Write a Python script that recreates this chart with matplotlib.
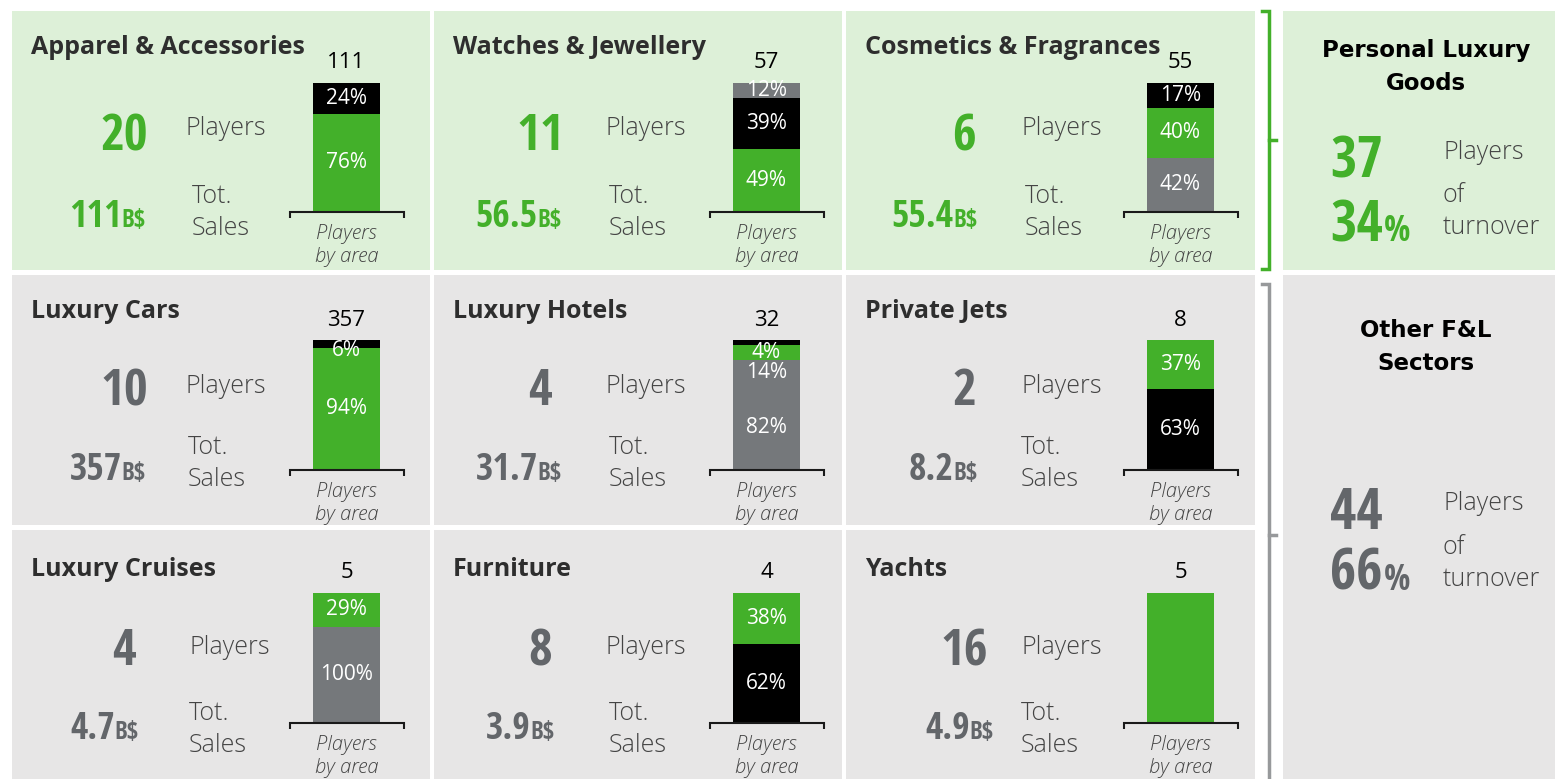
import os
import matplotlib
matplotlib.use("Agg")
import matplotlib.pyplot as plt
from matplotlib import font_manager as fm
from matplotlib.font_manager import FontProperties
from matplotlib.patches import Rectangle

# ---------------- data ----------------
sectors = ["Apparel & Accessories", "Watches & Jewellery", "Cosmetics & Fragrances",
           "Luxury Cars", "Luxury Hotels", "Private Jets",
           "Luxury Cruises", "Furniture", "Yachts"]
sector_group = [0, 0, 0, 1, 1, 1, 1, 1, 1]
players = [20, 11, 6, 10, 4, 2, 4, 8, 16]
sales_bn = [111, 56.5, 55.4, 357, 31.7, 8.2, 4.7, 3.9, 4.9]
bar_totals = [111, 57, 55, 357, 32, 8, 5, 4, 5]
seg_areas = [["green", "black"], ["green", "black", "gray"], ["gray", "green", "black"],
             ["green", "black"], ["gray", "gray", "green", "black"], ["black", "green"],
             ["gray", "green"], ["black", "green"], ["green"]]
seg_shares = [[76, 24], [49, 39, 12], [42, 39, 19],
              [94, 6], [65, 20, 11, 4], [62, 38],
              [74, 26], [61, 39], [100]]
seg_labels = [["76%", "24%"], ["49%", "39%", "12%"], ["42%", "40%", "17%"],
              ["94%", "6%"], ["82%", "14%", "4%", ""], ["63%", "37%"],
              ["100%", "29%"], ["62%", "38%"], [""]]

groups = ["Personal Luxury\nGoods", "Other F&L\nSectors"]
group_players = [37, 44]
group_turnover_pct = [34, 66]

# ---------------- style ----------------
GREEN = "#43B02A"
GRAY_BAR = "#75787B"
GRAY_TXT = "#63666A"
BG_GREEN = "#DDF0D8"
BG_GRAY = "#E7E6E6"
AREA_COLORS = {"green": GREEN, "black": "#000000", "gray": GRAY_BAR}
DARK = "#2E2E2E"
MID = "#444444"

W, H = 1555, 779


def find_condensed_bold():
    prefs = ["opensans", "notosans", "roboto", "liberationsans", "lato", "inter", "dejavusans"]
    best = None
    for f in fm.fontManager.ttflist:
        base = os.path.basename(f.fname).lower().replace("-", "").replace("_", "").replace(" ", "")
        if "italic" in base or "oblique" in base:
            continue
        st = str(f.stretch).lower()
        cond_rank = None
        if "semicondensed" in base or st == "semi-condensed":
            cond_rank = 1
        elif "extracondensed" in base or "ultracondensed" in base or st in ("extra-condensed", "ultra-condensed"):
            cond_rank = 2
        elif "condensed" in base or "narrow" in base or st == "condensed":
            cond_rank = 0
        if cond_rank is None:
            continue
        w = f.weight
        is_bold = (w in (700, "bold")) or ("bold" in base and "semibold" not in base
                                          and "extrabold" not in base and "demibold" not in base)
        if not is_bold:
            continue
        fam_rank = len(prefs)
        for i, p in enumerate(prefs):
            if base.startswith(p):
                fam_rank = i
                break
        score = (fam_rank, cond_rank)
        if best is None or score < best[0]:
            best = (score, f.fname)
    if best:
        return best[1]
    return fm.findfont(FontProperties(family="Open Sans", weight="bold"))


COND_PATH = find_condensed_bold()


def cond(size):
    return FontProperties(fname=COND_PATH, size=size)


def osans(size, weight="normal", style="normal"):
    return FontProperties(family=["Open Sans", "DejaVu Sans"], size=size, weight=weight, style=style)


fig = plt.figure(figsize=(W / 100, H / 100), dpi=100)
fig.patch.set_facecolor("white")
ax = fig.add_axes([0, 0, 1, 1])
ax.set_xlim(0, W)
ax.set_ylim(H, 0)
ax.axis("off")
renderer = fig.canvas.get_renderer()

# ---------------- layout ----------------
COL_X = [(12, 430), (434, 842), (846, 1255)]
ROW_Y = [(11, 270), (275, 525), (530, 779)]
NUM_CX = [124, 540, 964]
SALES_RX = [[146, 562, 978], [146, 562, 978], [139, 555, 994]]
PLAYERS_LX = [[186, 605, 1022], [186, 605, 1022], [190, 605, 1022]]
TOT_LX = [[192, 609, 1025], [188, 609, 1021], [189, 609, 1021]]
BAR_CX = [346.5, 766.5, 1180.5]
BAR_W = 67
BRACKET_HALF = 58
ROW_INFO = [
    dict(title=47, num=150, sales=227, players=128, tot=196, sal=228, top=83, bot=212),
    dict(title=311, num=405, sales=480, players=386, tot=447, sal=479, top=340, bot=470),
    dict(title=570, num=665, sales=739, players=647, tot=714, sal=746, top=593, bot=723),
]

for i, name in enumerate(sectors):
    r, c = divmod(i, 3)
    x0, x1 = COL_X[c]
    y0, y1 = ROW_Y[r]
    info = ROW_INFO[r]
    g = sector_group[i]
    bg = BG_GREEN if g == 0 else BG_GRAY
    numc = GREEN if g == 0 else GRAY_TXT
    ax.add_patch(Rectangle((x0, y0), x1 - x0, y1 - y0, facecolor=bg, edgecolor="none", zorder=0))

    ax.text(x0 + 19, info["title"], name, ha="left", va="center",
            fontproperties=osans(18, "bold"), color=DARK)
    ax.text(NUM_CX[c], info["num"], str(players[i]), ha="center", va="baseline",
            fontproperties=cond(37), color=numc)
    # sales value
    xr = SALES_RX[r][c]
    t2 = ax.text(xr, info["sales"], "B$", ha="right", va="baseline",
                 fontproperties=cond(18), color=numc)
    wpx = t2.get_window_extent(renderer).width
    ax.text(xr - wpx, info["sales"], f"{sales_bn[i]:g}", ha="right", va="baseline",
            fontproperties=cond(27), color=numc)

    ax.text(PLAYERS_LX[r][c], info["players"], "Players", ha="left", va="center",
            fontproperties=osans(18, "light"), color=MID)
    ax.text(TOT_LX[r][c], info["tot"], "Tot.", ha="left", va="center",
            fontproperties=osans(18, "light"), color=MID)
    ax.text(TOT_LX[r][c], info["sal"], "Sales", ha="left", va="center",
            fontproperties=osans(18, "light"), color=MID)

    # bar in its own axes
    cx = BAR_CX[c]
    hpx = info["bot"] - info["top"]
    bax = fig.add_axes([(cx - BRACKET_HALF) / W, 1 - info["bot"] / H,
                        2 * BRACKET_HALF / W, hpx / H])
    bax.set_xlim(-BRACKET_HALF, BRACKET_HALF)
    bax.set_ylim(0, 100)
    bax.axis("off")
    bottom = 0
    for area, share, lab in zip(seg_areas[i], seg_shares[i], seg_labels[i]):
        bax.bar(0, share, width=BAR_W, bottom=bottom, color=AREA_COLORS[area],
                edgecolor="none", zorder=2)
        if lab:
            if share < 8:
                bax.annotate(lab, xy=(0, bottom + share), xytext=(0, 0),
                             textcoords="offset pixels", ha="center", va="top",
                             fontproperties=osans(15), color="white", zorder=3)
            else:
                bax.text(0, bottom + share / 2, lab, ha="center", va="center",
                         fontproperties=osans(15), color="white", zorder=3)
        bottom += share
    tick = 6 * 100 / hpx
    bax.plot([-BRACKET_HALF + 1, -BRACKET_HALF + 1, BRACKET_HALF - 1, BRACKET_HALF - 1],
             [-tick, 0, 0, -tick], color="#1a1a1a", lw=1.5, clip_on=False,
             solid_capstyle="butt", solid_joinstyle="miter", zorder=4)
    bax.annotate(str(bar_totals[i]), xy=(0, 100), xytext=(0, 20),
                 textcoords="offset pixels", ha="center", va="center",
                 fontproperties=osans(16), color="black")
    bax.annotate("Players", xy=(0, 0), xytext=(0, -22), textcoords="offset pixels",
                 ha="center", va="center", fontproperties=osans(14.5, "light", "italic"),
                 color=MID, annotation_clip=False)
    bax.annotate("by area", xy=(0, 0), xytext=(0, -45), textcoords="offset pixels",
                 ha="center", va="center", fontproperties=osans(14.5, "light", "italic"),
                 color=MID, annotation_clip=False)

# ---------------- brackets ----------------
ax.plot([1262, 1268.5, 1268.5, 1262], [11, 11, 269, 269], color=GREEN, lw=2.5,
        solid_joinstyle="miter")
ax.plot([1268.5, 1276], [140, 140], color=GREEN, lw=2.5)
ax.plot([1262, 1268.5, 1268.5], [284, 284, 782], color="#97999B", lw=2.5,
        solid_joinstyle="miter")
ax.plot([1268.5, 1276], [535, 535], color="#97999B", lw=2.5)

# ---------------- group summary panels ----------------
GROUP_Y = [(11, 270), (275, 779)]
GROUP_INFO = [
    dict(title=50, num=177, pct=241, players=152, of=195, turn=227),
    dict(title=330, num=529, pct=590, players=503, of=547, turn=579),
]
for k, gname in enumerate(groups):
    y0, y1 = GROUP_Y[k]
    info = GROUP_INFO[k]
    bg = BG_GREEN if k == 0 else BG_GRAY
    numc = GREEN if k == 0 else GRAY_TXT
    ax.add_patch(Rectangle((1283, y0), W - 1283, y1 - y0, facecolor=bg, edgecolor="none", zorder=0))
    for j, line in enumerate(gname.split("\n")):
        ax.text(1426, info["title"] + j * 33, line, ha="center", va="center",
                fontproperties=FontProperties(family="DejaVu Sans", weight="bold", size=16.5),
                color="black")
    ax.text(1330, info["num"], str(group_players[k]), ha="left", va="baseline",
            fontproperties=cond(41), color=numc)
    t1 = ax.text(1330, info["pct"], str(group_turnover_pct[k]), ha="left", va="baseline",
                 fontproperties=cond(41), color=numc)
    wpx = t1.get_window_extent(renderer).width
    ax.text(1330 + wpx + 1, info["pct"], "%", ha="left", va="baseline",
            fontproperties=cond(25), color=numc)
    ax.text(1443, info["players"], "Players", ha="left", va="center",
            fontproperties=osans(18, "light"), color=MID)
    ax.text(1443, info["of"], "of", ha="left", va="center",
            fontproperties=osans(18, "light"), color=MID)
    ax.text(1443, info["turn"], "turnover", ha="left", va="center",
            fontproperties=osans(18, "light"), color=MID)

fig.savefig("out.png", dpi=100, facecolor="white")
